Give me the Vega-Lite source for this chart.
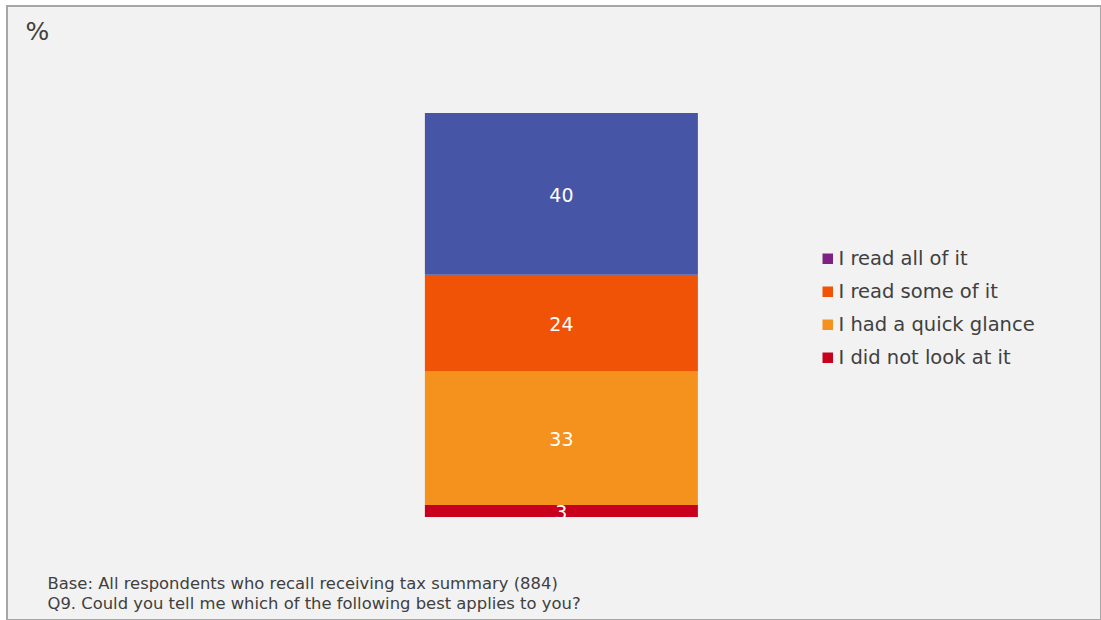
{
  "$schema": "https://vega.github.io/schema/vega-lite/v6.json",
  "width": 1094,
  "height": 614,
  "autosize": {"type": "none"},
  "padding": {"left": 7, "top": 6, "right": 0, "bottom": 0},
  "background": "white",
  "config": {
    "view": {"fill": "#F2F2F2", "stroke": "#A6A6A6", "strokeWidth": 2},
    "font": "DejaVu Sans"
  },
  "data": {
    "values": [
      {"q": "Q9", "answer": "I did not look at it", "value": 3},
      {"q": "Q9", "answer": "I had a quick glance", "value": 33},
      {"q": "Q9", "answer": "I read some of it", "value": 24},
      {"q": "Q9", "answer": "I read all of it", "value": 40}
    ]
  },
  "transform": [
    {"window": [{"op": "row_number", "as": "idx"}]},
    {"stack": "value", "groupby": ["q"], "sort": [{"field": "idx", "order": "ascending"}], "as": ["y0", "y1"]},
    {"calculate": "(datum.y0 + datum.y1) / 2", "as": "mid"}
  ],
  "encoding": {
    "x": {
      "field": "q",
      "type": "nominal",
      "scale": {"paddingInner": 0.33496, "paddingOuter": 1, "align": 0.509},
      "axis": {
        "labels": false,
        "ticks": false,
        "domain": false,
        "grid": false,
        "title": [
          "Base: All respondents who recall receiving tax summary (884)",
          "Q9. Could you tell me which of the following best applies to you?"
        ],
        "titleAnchor": "start",
        "titleAlign": "left",
        "titleX": 40,
        "titleY": -32,
        "titleBaseline": "alphabetic",
        "titleFontSize": 16.4,
        "titleFontWeight": "normal",
        "titleColor": "#404040",
        "titleFont": "DejaVu Sans",
        "titleLineHeight": 20
      }
    }
  },
  "layer": [
    {
      "mark": {"type": "bar"},
      "encoding": {
        "y": {
          "field": "y0",
          "type": "quantitative",
          "scale": {"domain": [-25.5, 126.5], "nice": false, "zero": false},
          "axis": {
            "labels": false,
            "ticks": false,
            "domain": false,
            "grid": false,
            "title": "%",
            "titleAngle": 0,
            "titleX": 18,
            "titleY": 33,
            "titleAlign": "left",
            "titleBaseline": "alphabetic",
            "titleFontSize": 25,
            "titleFontWeight": "normal",
            "titleColor": "#404040",
            "titleFont": "DejaVu Sans"
          }
        },
        "y2": {"field": "y1"},
        "color": {
          "field": "answer",
          "type": "nominal",
          "sort": ["I read all of it", "I read some of it", "I had a quick glance", "I did not look at it"],
          "scale": {"range": ["#4755A6", "#F05206", "#F5921E", "#C8001E"]},
          "legend": null
        }
      }
    },
    {
      "mark": {"type": "bar"},
      "encoding": {
        "y": {"field": "y0", "type": "quantitative"},
        "y2": {"field": "y0"},
        "fill": {
          "field": "answer",
          "type": "nominal",
          "scale": {
            "domain": ["I read all of it", "I read some of it", "I had a quick glance", "I did not look at it"],
            "range": ["#7D2283", "#F05206", "#F5921E", "#C8001E"]
          },
          "legend": {
            "title": null,
            "orient": "none",
            "legendX": 811,
            "legendY": 243,
            "symbolType": "square",
            "symbolSize": 110,
            "symbolStrokeWidth": 0,
            "labelFontSize": 19.5,
            "labelColor": "#404040",
            "labelFont": "DejaVu Sans",
            "labelOffset": 1,
            "labelLimit": 400,
            "rowPadding": 12
          }
        }
      }
    },
    {
      "mark": {"type": "text", "color": "white", "fontSize": 19, "font": "DejaVu Sans", "dy": 2},
      "encoding": {
        "y": {"field": "mid", "type": "quantitative"},
        "text": {"field": "value", "type": "quantitative"}
      }
    }
  ]
}
